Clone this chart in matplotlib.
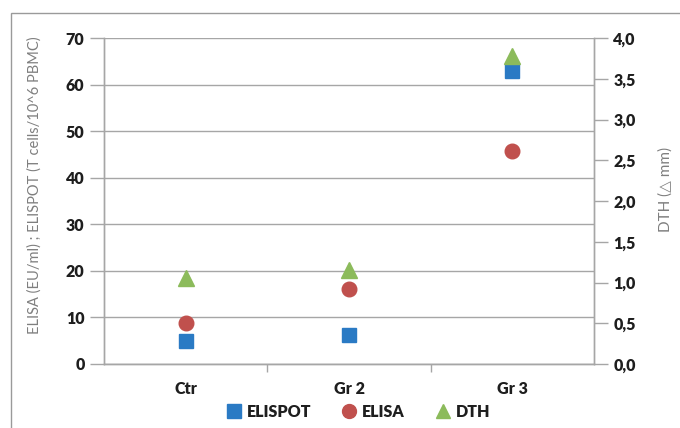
import numpy as np
import matplotlib.pyplot as plt
from matplotlib.patches import Rectangle
from matplotlib.lines import Line2D
from matplotlib.ticker import MultipleLocator, FixedLocator, FuncFormatter

plt.rcParams['font.family'] = ['Lato', 'DejaVu Sans']

groups = ['Ctr', 'Gr 2', 'Gr 3']
elispot = [5.0, 6.2, 63.0]
elisa = [8.8, 16.1, 45.8]
dth = [1.05, 1.15, 3.78]

c_blue = '#2A7AC4'
c_red = '#C0504D'
c_green = '#8CBB5B'
c_grid = '#A6A6A6'
c_txt = '#1E1E1E'

fig = plt.figure(figsize=(6.8, 4.28), dpi=100)
fig.patches.append(Rectangle((11/680, -0.1), 1.2, (428-13)/428 + 0.1, transform=fig.transFigure,
                             fill=False, edgecolor='#9A9A9A', lw=1.0))
ax = fig.add_axes([104/680, (428-364)/428, (594-104)/680, (364-38)/428])
ax2 = ax.twinx()

x = np.arange(len(groups))
ax.plot(x, elispot, 's', ms=10, color=c_blue, zorder=3, label='ELISPOT')
ax.plot(x, elisa, 'o', ms=10.5, color=c_red, zorder=3, label='ELISA')
ax2.plot(x, dth, '^', ms=11, color=c_green, zorder=3, label='DTH')

ax.set_xlim(-0.5, 2.5)
ax.set_ylim(0, 70)
ax2.set_ylim(0, 4)
ax.yaxis.set_major_locator(MultipleLocator(10))
ax2.yaxis.set_major_locator(MultipleLocator(0.5))
ax2.yaxis.set_major_formatter(FuncFormatter(lambda v, p: f"{v:.1f}".replace('.', ',')))

ax.set_xticks(x)
ax.set_xticklabels(groups)
ax.xaxis.set_minor_locator(FixedLocator([0.5, 1.5]))
ax.tick_params(axis='x', which='major', length=0, pad=12)
ax.tick_params(axis='x', which='minor', length=6, color=c_grid, width=1)
ax.tick_params(axis='y', length=10, color=c_grid, width=1, pad=4)
ax2.tick_params(axis='y', length=10, color=c_grid, width=1, pad=4)
for a in (ax, ax2):
    for lab in a.get_xticklabels() + a.get_yticklabels():
        lab.set_fontweight('heavy')
        lab.set_fontsize(11.5)
        lab.set_color(c_txt)

ax.grid(axis='y', color=c_grid, lw=1)
ax.set_axisbelow(True)
for a in (ax, ax2):
    a.spines['top'].set_visible(False)
    for s in ('left', 'right', 'bottom'):
        a.spines[s].set_color(c_grid)
        a.spines[s].set_linewidth(1)

ax.set_ylabel('ELISA (EU/ml) ; ELISPOT (T cells/10^6 PBMC)', color='#7F7F7F', fontsize=10.5)
ax2.set_ylabel('DTH (△ mm)', color='#7F7F7F', fontsize=11)
ax.yaxis.set_label_coords(-0.1265, 0.55)
ax2.yaxis.set_label_coords(1.1306, 0.534)

handles = [Line2D([], [], ls='', marker='s', ms=9.5, color=c_blue),
           Line2D([], [], ls='', marker='o', ms=10, color=c_red),
           Line2D([], [], ls='', marker='^', ms=10, color=c_green)]
leg = fig.legend(handles, ['ELISPOT', 'ELISA', 'DTH'], loc='center',
                 bbox_to_anchor=(359/680, (428-412)/428), ncol=3,
                 frameon=False, handlelength=0.8, handletextpad=0.4, columnspacing=2.0,
                 prop={'weight': 'heavy', 'size': 11.5})
for t in leg.get_texts():
    t.set_color(c_txt)

fig.savefig('out.png', dpi=100)
